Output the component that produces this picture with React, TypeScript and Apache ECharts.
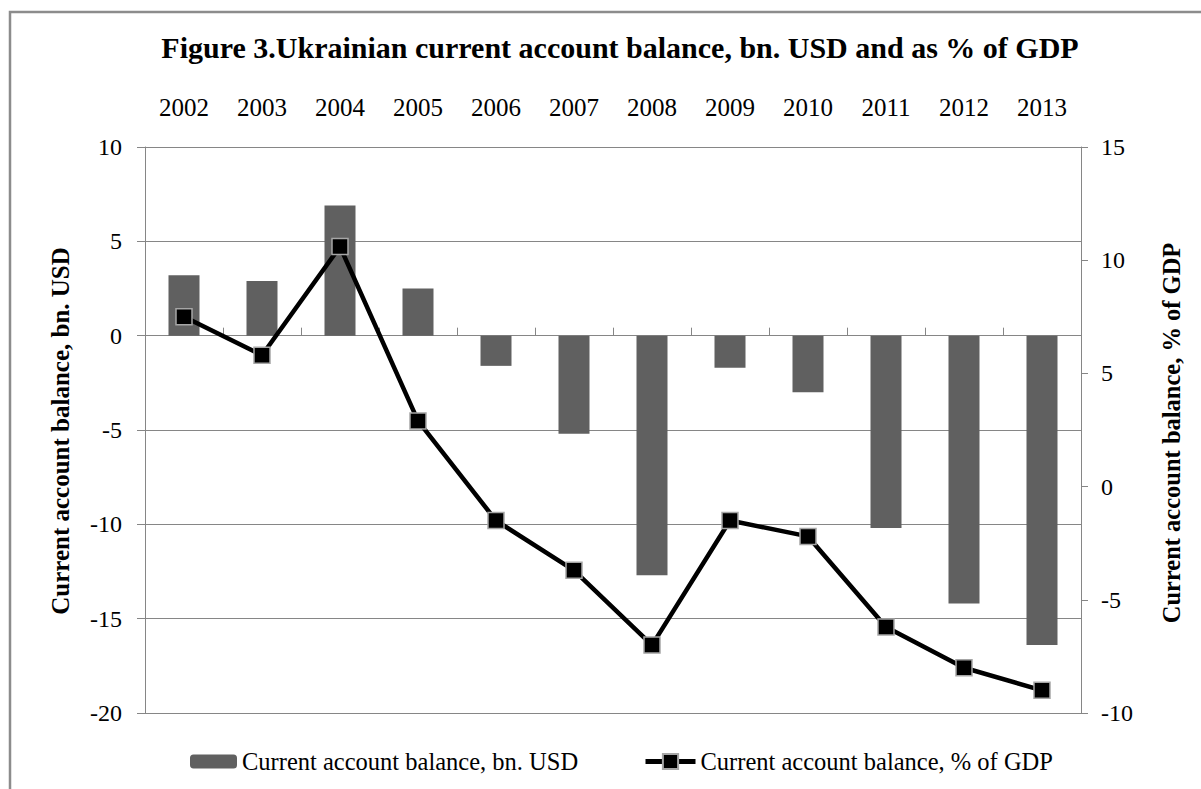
import React, { useEffect, useRef } from "react";
import * as echarts from "echarts";

const years = ["2002", "2003", "2004", "2005", "2006", "2007", "2008", "2009", "2010", "2011", "2012", "2013"];
const balanceUSD = [3.2, 2.9, 6.9, 2.5, -1.6, -5.2, -12.7, -1.7, -3.0, -10.2, -14.2, -16.4];
const balanceGDP = [7.5, 5.8, 10.6, 2.9, -1.5, -3.7, -7.0, -1.5, -2.2, -6.2, -8.0, -9.0];
const seriesNames = ["Current account balance, bn. USD", "Current account balance, % of GDP"];
const titleText = "Figure 3.Ukrainian current account balance, bn. USD and as % of GDP";
const leftTitle = "Current account balance, bn. USD";
const rightTitle = "Current account balance, % of GDP";

const FONT = "'Liberation Serif', 'Times New Roman', serif";
const GRID = "#868686";

export default function App() {
  const ref = useRef<HTMLDivElement>(null);
  useEffect(() => {
    if (!ref.current) return;
    const chart = echarts.init(ref.current, null, { renderer: "svg" });
    chart.setOption({
      animation: false,
      backgroundColor: "#ffffff",
      textStyle: { fontFamily: FONT },
      grid: { left: 145, right: 120, top: 147, bottom: 76, containLabel: false },
      graphic: [
        {
          type: "rect",
          shape: { x: 10, y: 12, width: 1220, height: 820 },
          style: { fill: "none", stroke: "#8c8c8c", lineWidth: 2.5 },
          silent: true,
        },
        {
          type: "text",
          x: 620,
          y: 47,
          style: {
            text: titleText,
            fontFamily: FONT,
            fontWeight: "bold",
            fontSize: 30,
            fill: "#000",
            textAlign: "center",
            textVerticalAlign: "middle",
          },
        },
        {
          type: "text",
          x: 60,
          y: 431,
          rotation: Math.PI / 2,
          style: {
            text: leftTitle,
            fontFamily: FONT,
            fontWeight: "bold",
            fontSize: 25,
            fill: "#000",
            textAlign: "center",
            textVerticalAlign: "middle",
          },
        },
        {
          type: "text",
          x: 1171,
          y: 433,
          rotation: Math.PI / 2,
          style: {
            text: rightTitle,
            fontFamily: FONT,
            fontWeight: "bold",
            fontSize: 24.5,
            fill: "#000",
            textAlign: "center",
            textVerticalAlign: "middle",
          },
        },
      ],
      legend: [
        {
          data: [seriesNames[0]],
          left: 185,
          top: 744,
          itemWidth: 47,
          itemHeight: 14,
          textStyle: { fontFamily: FONT, fontSize: 24.5, color: "#000" },
        },
        {
          data: [seriesNames[1]],
          left: 638,
          top: 744,
          itemWidth: 50,
          itemHeight: 19,
          lineStyle: { width: 5, color: "#000" },
          textStyle: { fontFamily: FONT, fontSize: 24.5, color: "#000" },
        },
      ],
      xAxis: {
        type: "category",
        data: years,
        position: "top",
        boundaryGap: true,
        axisLine: { show: true, lineStyle: { color: GRID, width: 1 } },
        axisTick: { show: true, length: 8, lineStyle: { color: GRID } },
        axisLabel: { fontFamily: FONT, fontSize: 25, color: "#000", margin: 27 },
        splitLine: { show: false },
      },
      yAxis: [
        {
          type: "value",
          min: -20,
          max: 10,
          interval: 5,
          position: "left",
          axisLine: { show: true, lineStyle: { color: GRID, width: 1 } },
          axisTick: { show: true, length: 8, lineStyle: { color: GRID } },
          axisLabel: { fontFamily: FONT, fontSize: 24, color: "#000", margin: 23 },
          splitLine: { show: true, lineStyle: { color: GRID, width: 1 } },
        },
        {
          type: "value",
          min: -10,
          max: 15,
          interval: 5,
          position: "right",
          axisLine: { show: true, lineStyle: { color: GRID, width: 1 } },
          axisTick: { show: true, length: 7, lineStyle: { color: GRID } },
          axisLabel: { fontFamily: FONT, fontSize: 24, color: "#000", margin: 20 },
          splitLine: { show: false },
        },
      ],
      series: [
        {
          name: seriesNames[0],
          type: "bar",
          data: balanceUSD,
          yAxisIndex: 0,
          barWidth: 31,
          itemStyle: { color: "#606060" },
        },
        {
          name: seriesNames[1],
          type: "line",
          data: balanceGDP,
          yAxisIndex: 1,
          symbol: "rect",
          symbolSize: 16,
          itemStyle: { color: "#000000", borderColor: "#a6a6a6", borderWidth: 1.5 },
          lineStyle: { color: "#000000", width: 4.5 },
        },
      ],
    });
    return () => chart.dispose();
  }, []);
  return (
    <div
      ref={ref}
      style={{ position: "fixed", left: 0, top: 0, width: 1201, height: 789, background: "#fff" }}
    />
  );
}
